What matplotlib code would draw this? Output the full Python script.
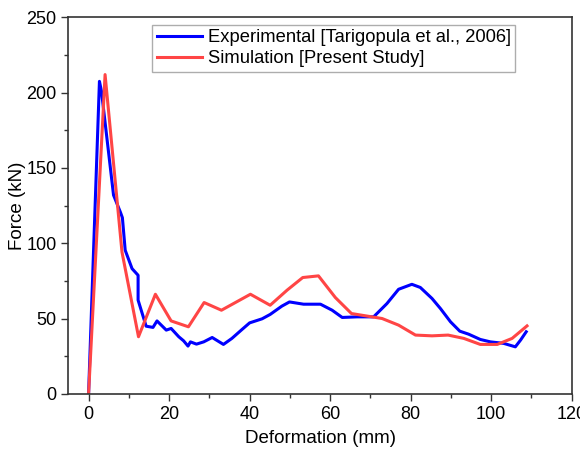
import matplotlib.pyplot as plt

plt.rcParams['font.family'] = ['Liberation Sans', 'DejaVu Sans']

# Experimental [Tarigopula et al., 2006]
exp_x = [0, 2.7, 3.2, 6.2, 7.9, 8.4, 9.1, 10.8, 12.3, 12.3, 14.3, 16.0, 17.0, 19.3, 20.5,
         22.4, 23.6, 24.7, 25.3, 26.8, 28.6, 30.7, 33.5, 35.6, 38.1, 40.0, 43.1, 45.1,
         48.0, 49.9, 53.4, 57.6, 60.5, 63.0, 66.7, 70.8, 74.1, 77.0, 80.3, 82.4, 85.3,
         87.4, 89.9, 92.2, 94.4, 97.3, 99.8, 103.1, 106.0, 107.3, 108.7]
exp_y = [0, 207.5, 201, 132, 120.7, 117, 95.4, 83.2, 78.8, 62.3, 45.0, 44.2, 48.5, 42.4, 43.5,
         38.0, 35.3, 31.8, 34.6, 33.1, 34.6, 37.5, 32.9, 36.9, 42.8, 47.2, 49.9, 52.8,
         58.3, 61.1, 59.6, 59.6, 55.6, 50.8, 51.2, 51.2, 60.0, 69.5, 72.8, 70.7, 63.4,
         56.7, 47.9, 41.7, 39.7, 36.2, 34.6, 33.6, 31.3, 35.8, 41.3]

# Simulation [Present Study]
sim_x = [0, 4.1, 8.3, 12.4, 16.6, 20.5, 24.8, 28.7, 33.0, 40.2, 45.1, 49.3, 53.2, 57.1,
         61.3, 65.3, 72.9, 77.0, 81.2, 85.3, 89.3, 93.2, 97.3, 101.5, 105.2, 108.9]
sim_y = [0, 212, 94.2, 38.0, 66.2, 48.5, 44.6, 60.7, 55.6, 66.2, 58.9, 68.9, 77.3, 78.4,
         64.0, 53.4, 50.1, 45.7, 39.1, 38.6, 39.1, 36.9, 32.9, 32.9, 36.9, 45.2]

fig = plt.figure(figsize=(5.8, 4.51), dpi=100)
ax = fig.add_axes([0.118, 0.1264, 0.8677, 0.8352])

ax.plot(exp_x, exp_y, color='#0000ff', lw=2.2, label='Experimental [Tarigopula et al., 2006]')
ax.plot(sim_x, sim_y, color='#ff4545', lw=2.2, label='Simulation [Present Study]')

ax.set_xlim(-5, 120)
ax.set_ylim(0, 250)
ax.set_xticks(range(0, 121, 20))
ax.set_xticks(range(10, 120, 20), minor=True)
ax.set_yticks(range(0, 251, 50))
ax.set_yticks(range(25, 250, 50), minor=True)
ax.tick_params(axis='both', which='major', direction='out', length=5, width=1,
               color='#333333', labelsize=13, top=False, right=False)
ax.tick_params(axis='both', which='minor', direction='out', length=3, width=1,
               color='#333333', top=False, right=False)
for s in ax.spines.values():
    s.set_color('#333333')
    s.set_linewidth(1.2)

ax.set_xlabel('Deformation (mm)', fontsize=13.5, labelpad=5)
ax.set_ylabel('Force (kN)', fontsize=13.5, labelpad=0)

leg = ax.legend(loc='upper left', bbox_to_anchor=(0.166, 0.98), borderaxespad=0,
                fontsize=13.2, frameon=True, fancybox=False, edgecolor='#999999',
                handlelength=2.5, handletextpad=0.3, borderpad=0.25, labelspacing=0.2)
leg.get_frame().set_linewidth(1)

fig.savefig('out.png', dpi=100)
